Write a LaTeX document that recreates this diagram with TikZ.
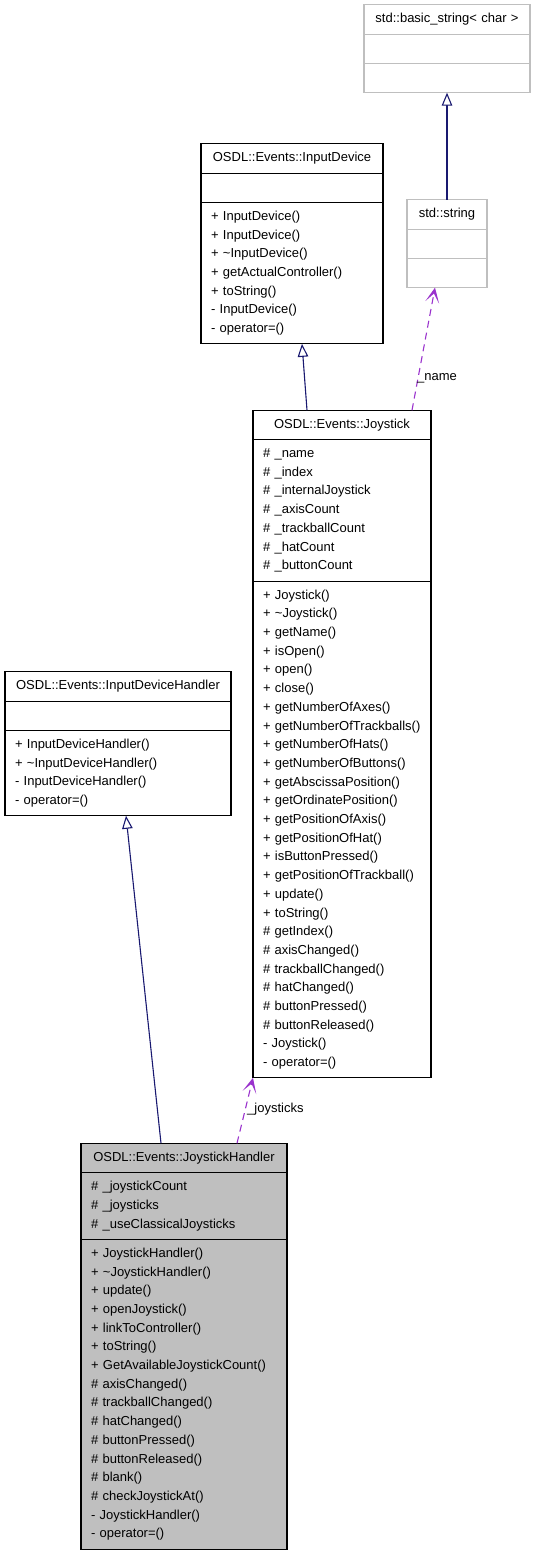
\documentclass[tikz,border=0pt]{standalone}
\usepackage{fontspec}
\setmainfont{Liberation Sans}
\usetikzlibrary{positioning,arrows.meta}

\definecolor{inhblue}{HTML}{191970}
\definecolor{usepurple}{HTML}{9A32CD}
\definecolor{extgray}{HTML}{BFBFBF}
\definecolor{handlergray}{HTML}{BFBFBF}
\newcommand{\classfont}{\fontsize{13}{18.7}\selectfont}

\begin{document}
\begin{tikzpicture}[x=1pt,y=-1pt]

        \tikzset{cls/.style = {rectangle, draw, line width=1.1pt, inner xsep=10pt, inner ysep=0pt, outer sep=0pt, font=\classfont}, }
        \tikzset{ctitle/.style = {cls, align=center, minimum height=29.5pt}, }
        \tikzset{cpart/.style = {cls, align=left, minimum height=#1}, }
        \tikzset{ext/.style = {draw=extgray}, }
        \tikzset{current/.style = {fill=handlergray}, }
        \tikzset{lbl/.style = {inner sep=0pt, font=\classfont}, }
        \tikzstyle{inherit} = [draw=inhblue, line width=1.1pt, -{Triangle[open, length=13pt, width=10.5pt, fill=white]}]
        \tikzstyle{uses} = [draw=usepurple, line width=1.1pt, dash pattern=on 7pt off 5pt, -{Stealth[length=15pt, width=14pt, inset=9pt]}]

        \useasboundingbox (0,0) rectangle (535,1555);

        % std::basic_string< char >
        \node[ctitle, ext, text width=146pt] (BS) at (447,19.5) {std::basic\_string\textless{} char \textgreater};
        \node[cpart=29.2pt, ext, text width=146pt, below=0pt of BS] (BSa) {};
        \node[cpart=29.2pt, ext, text width=146pt, below=0pt of BSa] (BSm) {};

        % std::string
        \node[ctitle, ext, text width=60pt] (STR) at (447,214.5) {std::string};
        \node[cpart=29.2pt, ext, text width=60pt, below=0pt of STR] (STRa) {};
        \node[cpart=29.2pt, ext, text width=60pt, below=0pt of STRa] (STRm) {};

        % InputDevice
        \node[ctitle, text width=162pt] (ID) at (292,158.5) {OSDL::Events::InputDevice};
        \node[cpart=29.2pt, text width=162pt, below=0pt of ID] (IDa) {};
        \node[cpart=141.4pt, text width=162pt, below=0pt of IDa] (IDm) {
        + InputDevice()\\
        + InputDevice()\\
        + \textasciitilde InputDevice()\\
        + getActualController()\\
        + toString()\\
        - InputDevice()\\
        - operator=()};

        % Joystick
        \node[ctitle, text width=158pt] (JS) at (342,425) {OSDL::Events::Joystick};
        \node[cpart=141.4pt, text width=158pt, below=0pt of JS] (JSa) {
        \# \_name\\
        \# \_index\\
        \# \_internalJoystick\\
        \# \_axisCount\\
        \# \_trackballCount\\
        \# \_hatCount\\
        \# \_buttonCount};
        \node[cpart=496.7pt, text width=158pt, below=0pt of JSa] (JSm) {
        + Joystick()\\
        + \textasciitilde Joystick()\\
        + getName()\\
        + isOpen()\\
        + open()\\
        + close()\\
        + getNumberOfAxes()\\
        + getNumberOfTrackballs()\\
        + getNumberOfHats()\\
        + getNumberOfButtons()\\
        + getAbscissaPosition()\\
        + getOrdinatePosition()\\
        + getPositionOfAxis()\\
        + getPositionOfHat()\\
        + isButtonPressed()\\
        + getPositionOfTrackball()\\
        + update()\\
        + toString()\\
        \# getIndex()\\
        \# axisChanged()\\
        \# trackballChanged()\\
        \# hatChanged()\\
        \# buttonPressed()\\
        \# buttonReleased()\\
        - Joystick()\\
        - operator=()};

        % InputDeviceHandler
        \node[ctitle, text width=206pt] (IDH) at (118,686.5) {OSDL::Events::InputDeviceHandler};
        \node[cpart=29.2pt, text width=206pt, below=0pt of IDH] (IDHa) {};
        \node[cpart=85.3pt, text width=206pt, below=0pt of IDHa] (IDHm) {
        + InputDeviceHandler()\\
        + \textasciitilde InputDeviceHandler()\\
        - InputDeviceHandler()\\
        - operator=()};

        % JoystickHandler
        \node[ctitle, current, text width=186pt] (JH) at (184,1158) {OSDL::Events::JoystickHandler};
        \node[cpart=66.6pt, current, text width=186pt, below=0pt of JH] (JHa) {
        \# \_joystickCount\\
        \# \_joysticks\\
        \# \_useClassicalJoysticks};
        \node[cpart=309.7pt, current, text width=186pt, below=0pt of JHa] (JHm) {
        + JoystickHandler()\\
        + \textasciitilde JoystickHandler()\\
        + update()\\
        + openJoystick()\\
        + linkToController()\\
        + toString()\\
        + GetAvailableJoystickCount()\\
        \# axisChanged()\\
        \# trackballChanged()\\
        \# hatChanged()\\
        \# buttonPressed()\\
        \# buttonReleased()\\
        \# blank()\\
        \# checkJoystickAt()\\
        - JoystickHandler()\\
        - operator=()};

        \draw[inherit] (STR.north) -- (BSm.south);
        \draw[inherit] ([xshift=-35pt]JS.north) -- ([xshift=10pt]IDm.south);
        \draw[inherit] ([xshift=-23pt]JH.north) -- ([xshift=8pt]IDHm.south);

        \draw[uses] ([xshift=70pt]JS.north) -- ([xshift=-12pt]STRm.south);
        \draw[uses] ([xshift=53pt]JH.north) -- (JSm.south west);

        \node[lbl, anchor=base west] (Lname) at (417,380) {\_name};
        \node[lbl, anchor=base west] (Ljoy) at (247,1112) {\_joysticks};

\end{tikzpicture}
\end{document}
